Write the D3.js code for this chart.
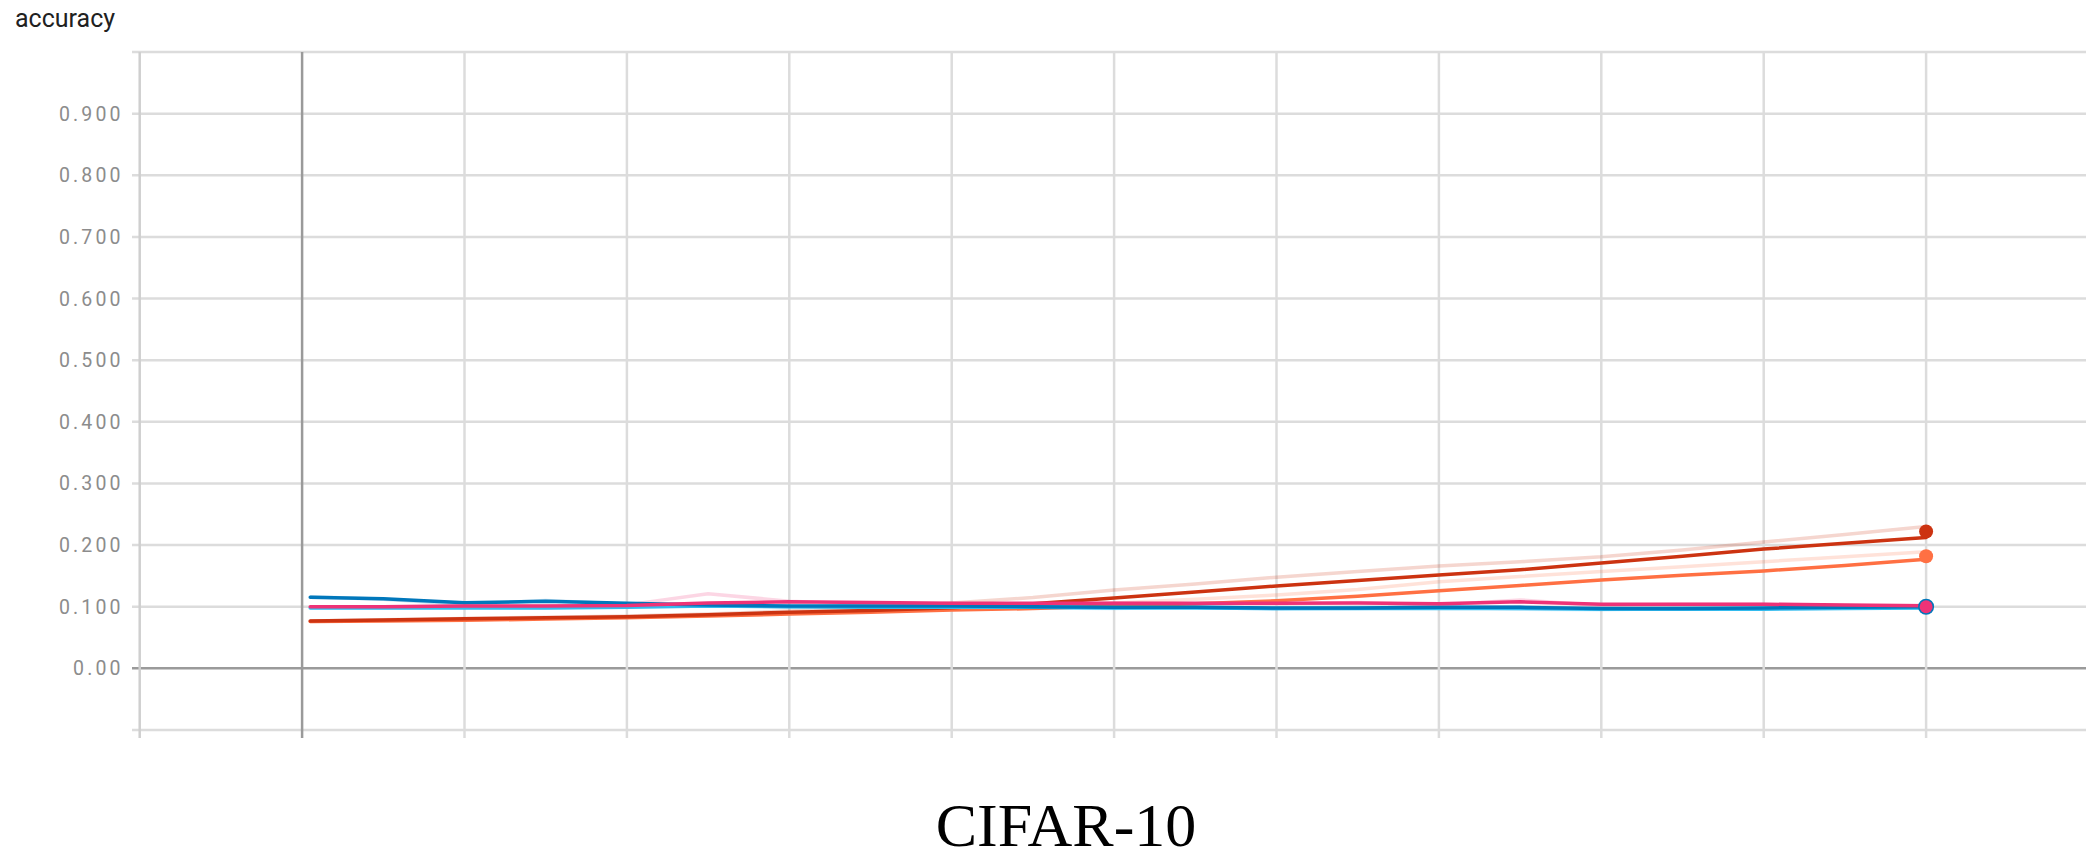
<!DOCTYPE html>
<html>
<head>
<meta charset="utf-8">
<script src="https://cdn.jsdelivr.net/npm/d3@7"></script>
<style>
  html, body { margin: 0; padding: 0; background: #fff; }
  svg { display: block; }
</style>
</head>
<body>
<svg id="chart" width="2086" height="859"></svg>
<script>
// ---------- data ----------
const yLabel = "accuracy";
const caption = "CIFAR-10";
const steps = [1, 10, 20, 30, 40, 50, 60, 70, 80, 90, 100, 110, 120, 130, 140, 150, 160, 170, 180, 190, 200];
const yTickValues = [0, 0.1, 0.2, 0.3, 0.4, 0.5, 0.6, 0.7, 0.8, 0.9];
const yTickLabels = ["0.00", "0.100", "0.200", "0.300", "0.400", "0.500", "0.600", "0.700", "0.800", "0.900"];
const yGridValues = [-0.1, 0, 0.1, 0.2, 0.3, 0.4, 0.5, 0.6, 0.7, 0.8, 0.9, 1.0];
const xGridValues = [-20, 0, 20, 40, 60, 80, 100, 120, 140, 160, 180, 200, 220];

const seriesNames = ["orange", "red", "cyan", "blue", "pink"];
const seriesColors = ["#ff7043", "#cc3311", "#33bbee", "#0077bb", "#ee3377"];

const redSmooth = [0.0770, 0.0785, 0.0805, 0.0820, 0.0838, 0.0870, 0.0910, 0.0940, 0.0985, 0.1050, 0.1140, 0.1240, 0.1336, 0.1425, 0.1515, 0.1600, 0.1710, 0.1820, 0.1935, 0.2030, 0.2125];
const redRaw    = [0.0770, 0.0790, 0.0810, 0.0830, 0.0850, 0.0880, 0.0930, 0.0980, 0.1060, 0.1150, 0.1270, 0.1370, 0.1480, 0.1570, 0.1660, 0.1730, 0.1810, 0.1920, 0.2050, 0.2170, 0.2300];
const orangeSmooth = [0.0760, 0.0770, 0.0780, 0.0800, 0.0820, 0.0850, 0.0880, 0.0910, 0.0946, 0.0970, 0.1010, 0.1050, 0.1097, 0.1170, 0.1260, 0.1345, 0.1433, 0.1510, 0.1580, 0.1670, 0.1770];
const orangeRaw    = [0.0760, 0.0775, 0.0790, 0.0810, 0.0835, 0.0865, 0.0895, 0.0930, 0.0970, 0.1010, 0.1060, 0.1120, 0.1190, 0.1280, 0.1406, 0.1490, 0.1570, 0.1650, 0.1730, 0.1810, 0.1890];
const blueSmooth = [0.1153, 0.1130, 0.1065, 0.1088, 0.1055, 0.1030, 0.1010, 0.1010, 0.1010, 0.1000, 0.0990, 0.0990, 0.0980, 0.0980, 0.0990, 0.0990, 0.0970, 0.0970, 0.0980, 0.0990, 0.1000];
const blueRaw    = [0.1160, 0.1120, 0.1040, 0.1100, 0.1040, 0.1020, 0.1000, 0.1020, 0.1010, 0.0990, 0.0980, 0.1000, 0.0970, 0.0990, 0.0990, 0.1000, 0.0960, 0.0980, 0.0980, 0.1000, 0.1000];
const cyanSmooth = [0.0980, 0.0980, 0.0980, 0.0980, 0.0990, 0.1010, 0.1000, 0.0990, 0.0990, 0.0990, 0.0980, 0.0980, 0.0970, 0.0970, 0.0970, 0.0970, 0.0960, 0.0960, 0.0960, 0.0970, 0.0980];
const cyanRaw    = [0.0980, 0.0980, 0.0990, 0.0980, 0.1010, 0.1050, 0.0990, 0.0980, 0.1000, 0.0980, 0.0970, 0.0990, 0.0960, 0.0970, 0.1000, 0.0960, 0.0950, 0.0970, 0.0960, 0.0980, 0.0990];
const pinkSmooth = [0.1000, 0.1000, 0.1010, 0.1010, 0.1020, 0.1060, 0.1080, 0.1070, 0.1055, 0.1055, 0.1055, 0.1055, 0.1055, 0.1060, 0.1050, 0.1080, 0.1040, 0.1040, 0.1040, 0.1030, 0.1016];
const pinkRaw    = [0.1000, 0.1000, 0.1010, 0.1010, 0.1030, 0.1210, 0.1090, 0.1040, 0.1040, 0.1050, 0.1060, 0.1050, 0.1050, 0.1070, 0.1030, 0.1110, 0.1020, 0.1040, 0.1040, 0.1020, 0.1000];

const markerNames  = ["blue", "pink", "orange", "red"];
const markerValues = [0.100, 0.100, 0.182, 0.222];
const markerRadius = [8, 6.5, 7, 7];

// ---------- layout ----------
const svg = d3.select("#chart");
const W = 2086;
const x = d3.scaleLinear().domain([-20, 220]).range([139.7, 2088.5]);
const y = d3.scaleLinear().domain([-0.1, 1.0]).range([730, 52]);

const smooth = { orange: orangeSmooth, red: redSmooth, cyan: cyanSmooth, blue: blueSmooth, pink: pinkSmooth };
const raw = { orange: orangeRaw, red: redRaw, cyan: cyanRaw, blue: blueRaw, pink: pinkRaw };
const colorOf = {};
seriesNames.forEach((n, i) => colorOf[n] = seriesColors[i]);

// y grid (horizontal)
svg.append("g").selectAll("line").data(yGridValues).join("line")
  .attr("x1", 132).attr("x2", W)
  .attr("y1", d => y(d)).attr("y2", d => y(d))
  .attr("stroke", d => d === 0 ? "#9a9a9a" : "#dcdcdc")
  .attr("stroke-width", 2.5);

// x grid (vertical)
svg.append("g").selectAll("line").data(xGridValues).join("line")
  .attr("x1", d => x(d)).attr("x2", d => x(d))
  .attr("y1", y(1.0)).attr("y2", 738)
  .attr("stroke", d => d === 0 ? "#9a9a9a" : (d === -20 ? "#cfcfcf" : "#dcdcdc"))
  .attr("stroke-width", 2.5);

// y tick labels
svg.append("g").selectAll("text").data(yTickValues).join("text")
  .attr("x", 123.5)
  .attr("y", d => y(d))
  .attr("dy", "0.36em")
  .attr("text-anchor", "end")
  .attr("font-family", "Roboto, sans-serif")
  .attr("font-size", "19.5px")
  .attr("letter-spacing", "3.1px")
  .attr("fill", "#8c8c8c")
  .text((d, i) => yTickLabels[i]);

// y label
svg.append("text")
  .attr("x", 15).attr("y", 27)
  .attr("font-family", "Roboto, sans-serif")
  .attr("font-size", "25px")
  .attr("fill", "#212121")
  .text(yLabel);

// lines
const line = d3.line().x((d, i) => x(steps[i])).y(d => y(d));
const gRaw = svg.append("g");
seriesNames.forEach(n => {
  gRaw.append("path").attr("d", line(raw[n]))
    .attr("fill", "none").attr("stroke", colorOf[n])
    .attr("stroke-width", 3.5).attr("stroke-opacity", 0.2)
    .attr("stroke-linejoin", "round");
});
const gSm = svg.append("g");
seriesNames.forEach(n => {
  gSm.append("path").attr("d", line(smooth[n]))
    .attr("fill", "none").attr("stroke", colorOf[n])
    .attr("stroke-width", 3.5)
    .attr("stroke-linejoin", "round").attr("stroke-linecap", "round");
});

// end markers
const lastStep = steps[steps.length - 1];
svg.append("g").selectAll("circle").data(markerValues).join("circle")
  .attr("cx", x(lastStep))
  .attr("cy", d => y(d))
  .attr("r", (d, i) => markerRadius[i])
  .attr("fill", (d, i) => colorOf[markerNames[i]]);

// caption
svg.append("text")
  .attr("x", 1066).attr("y", 846)
  .attr("text-anchor", "middle")
  .attr("font-family", "'Liberation Serif', 'Times New Roman', serif")
  .attr("font-size", "62px")
  .attr("fill", "#000")
  .text(caption);
</script>
</body>
</html>
